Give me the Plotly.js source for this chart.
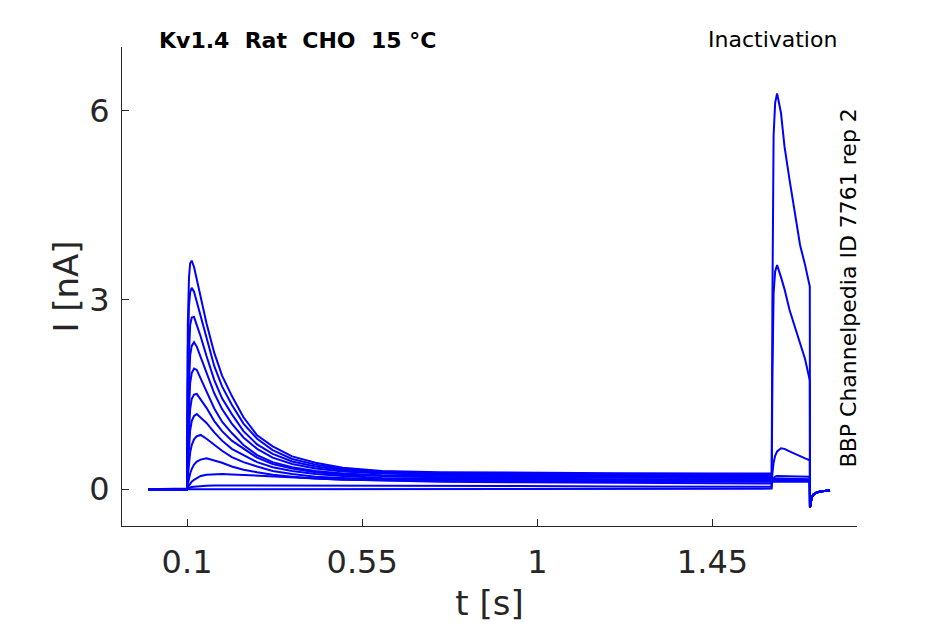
<!DOCTYPE html>
<html>
<head>
<meta charset="utf-8">
<script src="https://cdn.plot.ly/plotly-3.0.1.min.js"></script>
<style>
  body { margin: 0; background: white; }
  #chart { width: 945px; height: 624px; }
</style>
</head>
<body>
<div id="chart"></div>
<script>
// time grids [s] for the three parts of the sweep
const preT  = [0, 0.1, 0.102, 0.105, 0.108, 0.112, 0.118, 0.125, 0.135, 0.15, 0.17, 0.19, 0.215, 0.245, 0.28, 0.32, 0.37, 0.43, 0.5, 0.6, 0.75, 0.95, 1.2, 1.45, 1.602];
const testT = [1.604, 1.607, 1.611, 1.616, 1.626, 1.635, 1.648, 1.661, 1.675, 1.688, 1.7];
const tailT = [1.7005, 1.702, 1.705, 1.71, 1.718, 1.73, 1.752];

// current [nA] during the prepulse, one array per sweep
const pre1  = [0, 0, 2.6, 3.35, 3.58, 3.62, 3.52, 3.33, 3.07, 2.63, 2.16, 1.8, 1.48, 1.14, 0.855, 0.68, 0.52, 0.42, 0.34, 0.29, 0.27, 0.26, 0.255, 0.25, 0.25];
const pre2  = [0, 0, 2.2, 2.9, 3.12, 3.19, 3.13, 2.97, 2.76, 2.38, 1.95, 1.63, 1.34, 1.04, 0.8, 0.62, 0.48, 0.39, 0.32, 0.28, 0.25, 0.245, 0.24, 0.24, 0.24];
const pre3  = [0, 0, 1.7, 2.35, 2.6, 2.72, 2.73, 2.6, 2.42, 2.11, 1.73, 1.44, 1.19, 0.92, 0.71, 0.56, 0.44, 0.36, 0.3, 0.26, 0.24, 0.235, 0.23, 0.23, 0.23];
const pre4  = [0, 0, 1.2, 1.85, 2.12, 2.27, 2.33, 2.26, 2.1, 1.84, 1.52, 1.27, 1.04, 0.82, 0.64, 0.5, 0.4, 0.33, 0.28, 0.25, 0.23, 0.225, 0.22, 0.22, 0.22];
const pre5  = [0, 0, 0.85, 1.4, 1.68, 1.84, 1.91, 1.89, 1.76, 1.56, 1.28, 1.07, 0.89, 0.7, 0.54, 0.43, 0.35, 0.29, 0.25, 0.22, 0.21, 0.2, 0.2, 0.2, 0.2];
const pre6  = [0, 0, 0.55, 1.0, 1.27, 1.43, 1.5, 1.51, 1.42, 1.29, 1.08, 0.92, 0.77, 0.64, 0.5, 0.4, 0.33, 0.27, 0.23, 0.21, 0.19, 0.185, 0.18, 0.18, 0.18];
const pre7  = [0, 0, 0.35, 0.7, 0.93, 1.08, 1.16, 1.19, 1.14, 1.05, 0.9, 0.77, 0.64, 0.54, 0.43, 0.35, 0.29, 0.24, 0.21, 0.18, 0.17, 0.165, 0.16, 0.16, 0.16];
const pre8  = [0, 0, 0.2, 0.4, 0.58, 0.7, 0.79, 0.84, 0.86, 0.8, 0.7, 0.61, 0.51, 0.43, 0.36, 0.29, 0.24, 0.2, 0.18, 0.16, 0.15, 0.145, 0.14, 0.14, 0.14];
const pre9  = [0, 0, 0.08, 0.17, 0.25, 0.32, 0.39, 0.44, 0.47, 0.49, 0.46, 0.42, 0.36, 0.31, 0.27, 0.23, 0.2, 0.17, 0.15, 0.14, 0.13, 0.125, 0.12, 0.12, 0.12];
const pre10 = [0, 0, 0.03, 0.06, 0.09, 0.12, 0.15, 0.18, 0.21, 0.23, 0.24, 0.24, 0.235, 0.225, 0.215, 0.2, 0.185, 0.17, 0.155, 0.14, 0.12, 0.11, 0.1, 0.095, 0.09];
const pre11 = [0, 0, 0.01, 0.02, 0.03, 0.035, 0.04, 0.045, 0.05, 0.055, 0.06, 0.06, 0.06, 0.06, 0.06, 0.06, 0.06, 0.06, 0.06, 0.055, 0.05, 0.05, 0.045, 0.04, 0.04];
const pre12 = [0, 0, 0.005, 0.01, 0.01, 0.01, 0.01, 0.01, 0.01, 0.01, 0.01, 0.01, 0.01, 0.01, 0.01, 0.01, 0.01, 0.01, 0.01, 0.01, 0.01, 0.01, 0.01, 0.01, 0.01];

// current [nA] during the test pulse
const test1  = [0.15, 0.15, 0.15, 0.15, 0.15, 0.15, 0.15, 0.15, 0.15, 0.15, 0.15];
const test2  = [0.15, 0.15, 0.15, 0.15, 0.15, 0.15, 0.15, 0.15, 0.15, 0.15, 0.15];
const test3  = [0.14, 0.14, 0.14, 0.14, 0.14, 0.14, 0.14, 0.14, 0.14, 0.14, 0.14];
const test4  = [0.14, 0.14, 0.14, 0.14, 0.14, 0.14, 0.14, 0.14, 0.14, 0.14, 0.14];
const test5  = [0.13, 0.13, 0.13, 0.13, 0.13, 0.13, 0.13, 0.13, 0.13, 0.13, 0.13];
const test6  = [0.13, 0.13, 0.13, 0.13, 0.13, 0.13, 0.13, 0.13, 0.13, 0.13, 0.13];
const test7  = [0.12, 0.12, 0.12, 0.12, 0.12, 0.12, 0.12, 0.12, 0.12, 0.12, 0.12];
const test8  = [0.15, 0.16, 0.165, 0.17, 0.17, 0.17, 0.165, 0.165, 0.16, 0.16, 0.16];
const test9  = [0.15, 0.18, 0.2, 0.21, 0.21, 0.21, 0.205, 0.2, 0.2, 0.2, 0.2];
const test10 = [0.25, 0.42, 0.53, 0.6, 0.65, 0.64, 0.6, 0.56, 0.52, 0.49, 0.46];
const test11 = [1.8, 3.1, 3.45, 3.55, 3.36, 3.17, 2.84, 2.58, 2.33, 2.06, 1.72];
const test12 = [3.0, 5.6, 6.12, 6.27, 5.96, 5.43, 4.9, 4.38, 3.87, 3.55, 3.21];

// tail after the test pulse (same for every sweep)
const tailI = [-0.29, -0.2, -0.12, -0.08, -0.05, -0.03, -0.02];

const xTicks = [0.1, 0.55, 1, 1.45];
const xTickText = ['0.1', '0.55', '1', '1.45'];
const yTicks = [0, 3, 6];

const preSweeps  = [pre1, pre2, pre3, pre4, pre5, pre6, pre7, pre8, pre9, pre10, pre11, pre12];
const testSweeps = [test1, test2, test3, test4, test5, test6, test7, test8, test9, test10, test11, test12];

let data = preSweeps.map(function (pre, i) {
    return {
        x: preT.concat(testT, tailT),
        y: pre.concat(testSweeps[i], tailI),
        type: 'scatter',
        mode: 'lines',
        line: {color: '#0000ff', width: 2},
        hoverinfo: 'skip',
        showlegend: false
    };
});

let axisColor = '#262626';

let layout = {
    width: 945,
    height: 624,
    margin: {l: 122, r: 88, t: 47, b: 98},
    paper_bgcolor: 'white',
    plot_bgcolor: 'white',
    showlegend: false,
    font: {family: 'DejaVu Sans', color: axisColor},
    xaxis: {
        range: [-0.0671, 1.8213],
        tickmode: 'array',
        tickvals: xTicks,
        ticktext: xTickText,
        ticks: 'inside',
        ticklen: 7,
        tickcolor: axisColor,
        showline: true,
        linecolor: axisColor,
        linewidth: 1,
        showgrid: false,
        zeroline: false,
        tickfont: {size: 32, color: axisColor},
        ticklabelstandoff: 8,
        title: {text: 't [s]', font: {size: 34, color: axisColor}, standoff: 10}
    },
    yaxis: {
        range: [-0.582, 7.005],
        tickmode: 'array',
        tickvals: yTicks,
        ticks: 'inside',
        ticklen: 7,
        tickcolor: axisColor,
        showline: true,
        linecolor: axisColor,
        linewidth: 1,
        showgrid: false,
        zeroline: false,
        tickfont: {size: 32, color: axisColor},
        ticklabelstandoff: 5,
        title: {text: 'I [nA]', font: {size: 34, color: axisColor}, standoff: 0}
    },
    annotations: [
        {
            text: '<b>Kv1.4\u00a0\u00a0Rat\u00a0\u00a0CHO\u00a0\u00a015\u00a0°C</b>',
            xref: 'paper', yref: 'paper', x: 0.2388, y: 1.0146,
            xanchor: 'center', yanchor: 'middle', showarrow: false,
            font: {size: 22, color: 'black'}
        },
        {
            text: 'Inactivation',
            xref: 'paper', yref: 'paper', x: 0.8857, y: 1.0167,
            xanchor: 'center', yanchor: 'middle', showarrow: false,
            font: {size: 22, color: 'black'}
        },
        {
            text: 'BBP Channelpedia ID 7761 rep 2',
            xref: 'paper', yref: 'paper', x: 0.989, y: 0.4979,
            xanchor: 'center', yanchor: 'middle', showarrow: false,
            textangle: -90,
            font: {size: 22, color: 'black'}
        }
    ]
};

Plotly.newPlot('chart', data, layout, {staticPlot: true, displayModeBar: false});
</script>
</body>
</html>
